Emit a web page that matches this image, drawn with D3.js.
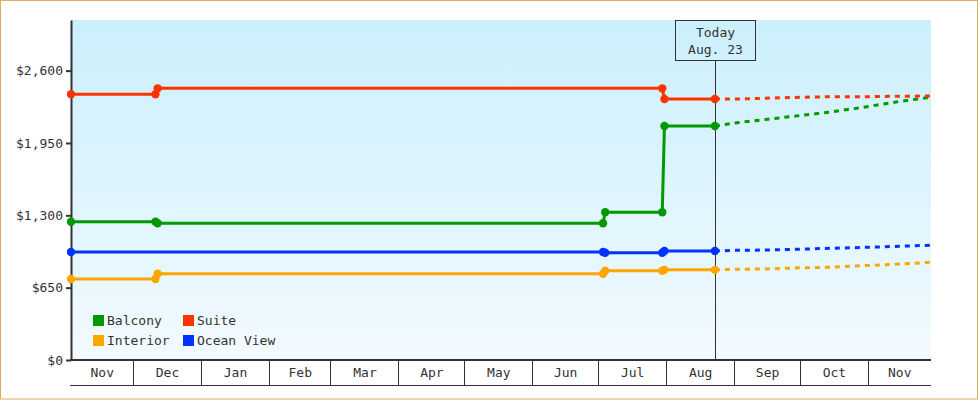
<!DOCTYPE html>
<html><head><meta charset="utf-8">
<script src="https://cdn.jsdelivr.net/npm/d3@7"></script>
<style>
body{margin:0;background:#fff}
text{font-family:"DejaVu Sans Mono",monospace;font-size:13px;fill:#333}
</style>
</head><body><svg id="c" width="980" height="400"></svg>
<script>
// ---- data ----
const seriesNames  = ["Balcony", "Suite", "Interior", "Ocean View"];
const seriesColors = ["#009900", "#ff3300", "#ffa500", "#0033ff"];

const balconyDates  = ["2022-11-02T12:00","2022-12-11","2022-12-12","2023-07-03","2023-07-04","2023-07-30","2023-07-31","2023-08-23"];
const balconyValues = [1243, 1243, 1229, 1229, 1327, 1327, 2103, 2103];

const suiteDates  = ["2022-11-02T12:00","2022-12-11","2022-12-12","2023-07-30","2023-07-31","2023-08-23"];
const suiteValues = [2388, 2388, 2441, 2441, 2345, 2345];

const interiorDates  = ["2022-11-02T12:00","2022-12-11","2022-12-12","2023-07-03","2023-07-04","2023-07-30","2023-07-31","2023-08-23"];
const interiorValues = [728, 728, 775, 775, 802, 802, 810, 810];

const oceanDates  = ["2022-11-02T12:00","2023-07-03","2023-07-04","2023-07-30","2023-07-31","2023-08-23"];
const oceanValues = [970, 970, 963, 963, 980, 980];

// forecast (dotted)
const forecastDates    = ["2023-08-23","2023-09-01","2023-09-15","2023-10-01","2023-10-15","2023-11-01","2023-11-15","2023-11-29T12:00"];
const balconyForecast  = [2103, 2130, 2161, 2197, 2229, 2278, 2323, 2361];
const suiteForecast    = [2345, 2345, 2352, 2361, 2366, 2366, 2370, 2372];
const interiorForecast = [810, 815, 818, 828, 834, 850, 862, 878];
const oceanForecast    = [980, 985, 988, 996, 1004, 1013, 1022, 1031];

const yTicks = [0, 650, 1300, 1950, 2600];
const monthLabels = ["Nov","Dec","Jan","Feb","Mar","Apr","May","Jun","Jul","Aug","Sep","Oct","Nov"];
const startDate = "2022-11-02T12:00", endDate = "2023-11-29T12:00", todayDate = "2023-08-23";
const todayLabel = ["Today", "Aug. 23"];
const yMax = 3055;

// ---- chart ----
const p1 = d3.timeParse("%Y-%m-%dT%H:%M"), p2 = d3.timeParse("%Y-%m-%d");
const parse = s => p1(s) || p2(s);
const svg = d3.select("#c");
const L = 71, R = 931, T = 20, B = 360;

const x = d3.scaleTime().domain([parse(startDate), parse(endDate)]).range([L, R]);
const y = d3.scaleLinear().domain([0, yMax]).range([B, T]);

// outer border
svg.append("rect").attr("x",0.5).attr("y",0.5).attr("width",977).attr("height",398.5)
  .attr("fill","none").attr("stroke","#e9a864").attr("stroke-width",1);

// background gradient
const defs = svg.append("defs");
const g = defs.append("linearGradient").attr("id","bg").attr("x1",0).attr("y1",0).attr("x2",0).attr("y2",1);
g.append("stop").attr("offset","0%").attr("stop-color","#cbeffc");
g.append("stop").attr("offset","100%").attr("stop-color","#f2faff");
svg.append("rect").attr("x",L).attr("y",T).attr("width",R-L).attr("height",B-T).attr("fill","url(#bg)");

// x band
const xb = svg.append("g");
const boundaries = d3.timeMonth.range(d3.timeMonth.ceil(parse(startDate)), parse(endDate));
const edges = [parse(startDate), ...boundaries, parse(endDate)];
boundaries.forEach(d => {
  const px = Math.floor(x(d)) + 0.5;
  xb.append("line").attr("x1",px).attr("x2",px).attr("y1",B).attr("y2",385).attr("stroke","#333").attr("stroke-width",1);
});
for (let i = 0; i < edges.length - 1; i++) {
  xb.append("text").attr("x",(x(edges[i]) + x(edges[i+1])) / 2).attr("y",373)
    .attr("text-anchor","middle").attr("dominant-baseline","middle").text(monthLabels[i]);
}
xb.append("line").attr("x1",70).attr("x2",R).attr("y1",385.5).attr("y2",385.5).attr("stroke","#333").attr("stroke-width",1);
xb.append("line").attr("x1",70).attr("x2",R).attr("y1",B).attr("y2",B).attr("stroke","#333").attr("stroke-width",2);

// y axis
const ya = svg.append("g").attr("transform",`translate(${L},0)`)
  .call(d3.axisLeft(y).tickValues(yTicks).tickSize(5).tickSizeOuter(0).tickPadding(3).tickFormat(d3.format("$,")));
ya.select(".domain").attr("stroke","#333").attr("stroke-width",2);
ya.selectAll(".tick line").attr("stroke","#333").attr("stroke-width",2);
ya.selectAll(".tick text").attr("fill","#333").style("font-family","'DejaVu Sans Mono',monospace").style("font-size","13px");

// today line and box
const tx = Math.round(x(parse(todayDate))) + 0.5;
svg.append("line").attr("x1",tx).attr("x2",tx).attr("y1",61).attr("y2",B).attr("stroke","#333").attr("stroke-width",1);
svg.append("rect").attr("x",tx-40).attr("y",20.5).attr("width",80).attr("height",40)
  .attr("fill","none").attr("stroke","#333").attr("stroke-width",1);
svg.append("text").attr("x",tx).attr("y",33).attr("text-anchor","middle").attr("dominant-baseline","middle").text(todayLabel[0]);
svg.append("text").attr("x",tx).attr("y",50).attr("text-anchor","middle").attr("dominant-baseline","middle").text(todayLabel[1]);

// series
const hist = [
  [balconyDates, balconyValues],
  [suiteDates, suiteValues],
  [interiorDates, interiorValues],
  [oceanDates, oceanValues]
];
const fc = [balconyForecast, suiteForecast, interiorForecast, oceanForecast];
const line = d3.line().x(d => x(d[0])).y(d => y(d[1]));

[3, 2, 0, 1].forEach(i => {
  const pts = hist[i][0].map((d, k) => [parse(d), hist[i][1][k]]);
  const fpts = forecastDates.map((d, k) => [parse(d), fc[i][k]]);
  svg.append("path").datum(fpts).attr("d", line).attr("fill","none")
    .attr("stroke", seriesColors[i]).attr("stroke-width",3).attr("stroke-dasharray","5,5");
  svg.append("path").datum(pts).attr("d", line).attr("fill","none")
    .attr("stroke", seriesColors[i]).attr("stroke-width",3).attr("stroke-linejoin","round");
  svg.append("g").selectAll("circle").data(pts).join("circle")
    .attr("cx", d => x(d[0])).attr("cy", d => y(d[1])).attr("r", 4.2).attr("fill", seriesColors[i]);
});

// legend
const legendPos = [[93,315],[183,315],[93,335],[183,335]];
seriesNames.forEach((n, i) => {
  const [lx, ly] = legendPos[i];
  svg.append("rect").attr("x",lx).attr("y",ly).attr("width",11).attr("height",11).attr("fill",seriesColors[i]);
  svg.append("text").attr("x",lx+14).attr("y",ly+6).attr("dominant-baseline","middle").text(n);
});
</script>
</body></html>
